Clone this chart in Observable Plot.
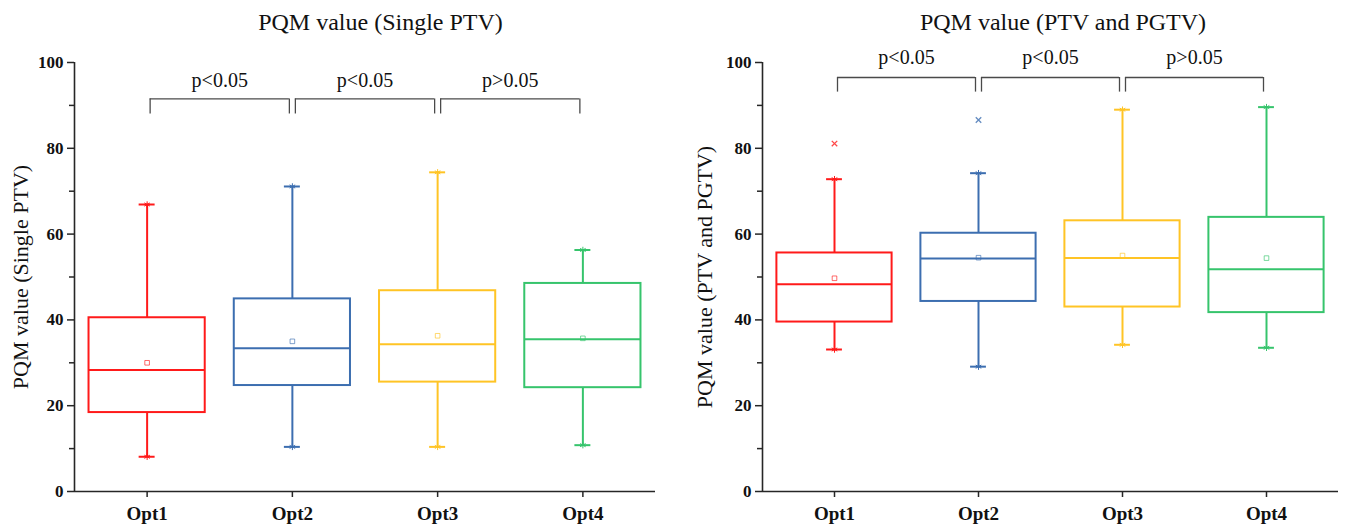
<!DOCTYPE html>
<html><head><meta charset="utf-8">
<script src="https://cdn.jsdelivr.net/npm/d3@7"></script>
<script src="https://cdn.jsdelivr.net/npm/@observablehq/plot@0.6"></script>
<style>
body{margin:0;background:#fff;}
#wrap{position:relative;width:1346px;height:529px;overflow:hidden;}
.panel{position:absolute;top:0;width:673px;height:529px;}
.title{box-sizing:border-box;width:673px;height:40px;line-height:44px;font-family:"Liberation Serif",serif;font-size:24px;color:#111;white-space:nowrap;text-align:center;}
svg{display:block;overflow:visible;}
</style></head><body>
<div id="wrap">
  <div class="panel" id="p1" style="left:0"><div class="title" style="padding-left:88px">PQM value (Single PTV)</div></div>
  <div class="panel" id="p2" style="left:673px"><div class="title" style="padding-left:107px">PQM value (PTV and PGTV)</div></div>
</div>
<script>
// ---- data ----
const categories = ["Opt1", "Opt2", "Opt3", "Opt4"];
const colors = ["#ff1a1a", "#3c6eb0", "#ffc425", "#36c46c"];
const yTicks = [0, 20, 40, 60, 80, 100];
const yMinorTicks = [10, 30, 50, 70, 90];

// Panel 1: PQM value (Single PTV)
const singleMin    = [8.1, 10.4, 10.4, 10.8];
const singleQ1     = [18.4, 24.7, 25.5, 24.2];
const singleMedian = [28.3, 33.4, 34.3, 35.5];
const singleQ3     = [40.5, 44.9, 46.8, 48.5];
const singleMax    = [66.9, 71.1, 74.4, 56.3];
const singleMean   = [30.0, 35.0, 36.3, 35.7];
const singleOutliers = [];

// Panel 2: PQM value (PTV and PGTV)
const pgtvMin    = [33.1, 29.1, 34.2, 33.5];
const pgtvQ1     = [39.5, 44.3, 43.0, 41.7];
const pgtvMedian = [48.3, 54.3, 54.4, 51.8];
const pgtvQ3     = [55.6, 60.2, 63.1, 63.9];
const pgtvMax    = [72.8, 74.2, 89.0, 89.6];
const pgtvMean   = [49.7, 54.5, 55.0, 54.4];
const pgtvOutliers = [{cat: "Opt1", value: 81.1}, {cat: "Opt2", value: 86.6}];

// significance brackets
const bracketPairs = [["Opt1", "Opt2"], ["Opt2", "Opt3"], ["Opt3", "Opt4"]];
const bracketLabels = ["p<0.05", "p<0.05", "p>0.05"];
const singleBracket = {top: 91.5, bottom: 88.0, label: 95.8};
const pgtvBracket = {top: 96.5, bottom: 93.1, label: 101.2};

// ---- build ----
const idx = c => categories.indexOf(c) + 1;
function rows(mn, q1, md, q3, mx, mean) {
  return categories.map((c, i) => ({cat: c, i: i + 1, color: colors[i], min: mn[i], q1: q1[i], median: md[i], q3: q3[i], max: mx[i], mean: mean[i]}));
}

function panel(el, cfg) {
  const data = cfg.data;
  const br = bracketPairs.map((p, k) => ({a: idx(p[0]), b: idx(p[1]), label: bracketLabels[k]}));
  const out = cfg.outliers.map(o => ({i: idx(o.cat), value: o.value, color: colors[idx(o.cat) - 1]}));
  const hb = 0.4, cap = 0.055;
  const axisColor = "#262626";
  const x0 = 0.5;
  const plot = Plot.plot({
    width: 673, height: 489,
    marginTop: 22, marginBottom: 38, marginLeft: cfg.marginLeft, marginRight: cfg.marginRight,
    x: {type: "linear", domain: [x0, 4.5], axis: null},
    y: {domain: [0, 100], axis: null},
    style: {fontFamily: "'Liberation Serif', 'Times New Roman', serif", background: "transparent", color: "#111", overflow: "visible"},
    marks: [
      // axes (ticks via Plot axes, labels via text marks for font control)
      Plot.axisY({ticks: yMinorTicks, tickSize: 5, tickFormat: () => "", label: null, stroke: axisColor, strokeWidth: 1.5}),
      Plot.axisY({ticks: yTicks, tickSize: 7, tickFormat: () => "", label: null, stroke: axisColor, strokeWidth: 1.5}),
      Plot.axisX({ticks: [1, 2, 3, 4], tickSize: 6, tickFormat: () => "", label: null, stroke: axisColor, strokeWidth: 1.5}),
      Plot.text(yTicks, {x: x0, y: d => d, text: d => String(d), dx: -11, textAnchor: "end", lineAnchor: "middle", fontSize: 17, fontWeight: "bold", fill: "#111"}),
      Plot.text(categories, {x: (d, i) => i + 1, y: 0, text: d => d, dy: 22, lineAnchor: "middle", fontSize: 19, fontWeight: "bold", fill: "#111"}),
      Plot.ruleX([x0], {y1: 0, y2: 100, stroke: axisColor, strokeWidth: 1.6}),
      Plot.ruleY([0], {stroke: axisColor, strokeWidth: 1.6}),
      Plot.text([cfg.yLabel], {frameAnchor: "left", textAnchor: "middle", lineAnchor: "middle", dx: cfg.labelDx, rotate: -90, fontSize: 22, fill: "#111"}),
      // whiskers
      Plot.ruleX(data, {x: "i", y1: "q3", y2: "max", stroke: "color", strokeWidth: 2}),
      Plot.ruleX(data, {x: "i", y1: "min", y2: "q1", stroke: "color", strokeWidth: 2}),
      Plot.ruleY(data, {x1: d => d.i - cap, x2: d => d.i + cap, y: "max", stroke: "color", strokeWidth: 2}),
      Plot.ruleY(data, {x1: d => d.i - cap, x2: d => d.i + cap, y: "min", stroke: "color", strokeWidth: 2}),
      Plot.dot(data, {x: "i", y: "max", symbol: "asterisk", r: 3, stroke: "color", strokeWidth: 1}),
      Plot.dot(data, {x: "i", y: "min", symbol: "asterisk", r: 3, stroke: "color", strokeWidth: 1}),
      // boxes
      Plot.rect(data, {x1: d => d.i - hb, x2: d => d.i + hb, y1: "q1", y2: "q3", fill: "none", stroke: "color", strokeWidth: 2}),
      Plot.ruleY(data, {x1: d => d.i - hb, x2: d => d.i + hb, y: "median", stroke: "color", strokeWidth: 2}),
      Plot.dot(data, {x: "i", y: "mean", symbol: "square", r: 2.6, fill: "none", stroke: "color", strokeOpacity: 0.65, strokeWidth: 1}),
      Plot.dot(out, {x: "i", y: "value", symbol: "times", r: 2.6, stroke: "color", strokeOpacity: 0.8, strokeWidth: 1.3}),
      // significance brackets
      Plot.ruleY(br, {x1: "a", x2: "b", y: cfg.bracket.top, insetLeft: 3, insetRight: 3, stroke: "#4a4a4a", strokeWidth: 1.3}),
      Plot.ruleX(br, {x: "a", y1: cfg.bracket.bottom, y2: cfg.bracket.top, dx: 3, stroke: "#4a4a4a", strokeWidth: 1.3}),
      Plot.ruleX(br, {x: "b", y1: cfg.bracket.bottom, y2: cfg.bracket.top, dx: -3, stroke: "#4a4a4a", strokeWidth: 1.3}),
      Plot.text(br, {x: d => (d.a + d.b) / 2, y: cfg.bracket.label, text: "label", fontSize: 20, fill: "#111"})
    ]
  });
  el.appendChild(plot);
}

panel(document.getElementById("p1"), {
  data: rows(singleMin, singleQ1, singleMedian, singleQ3, singleMax, singleMean),
  outliers: singleOutliers, bracket: singleBracket,
  marginLeft: 74, marginRight: 18, yLabel: "PQM value (Single PTV)", labelDx: -54
});
panel(document.getElementById("p2"), {
  data: rows(pgtvMin, pgtvQ1, pgtvMedian, pgtvQ3, pgtvMax, pgtvMean),
  outliers: pgtvOutliers, bracket: pgtvBracket,
  marginLeft: 89, marginRight: 8, yLabel: "PQM value (PTV and PGTV)", labelDx: -58
});
</script>
</body></html>
